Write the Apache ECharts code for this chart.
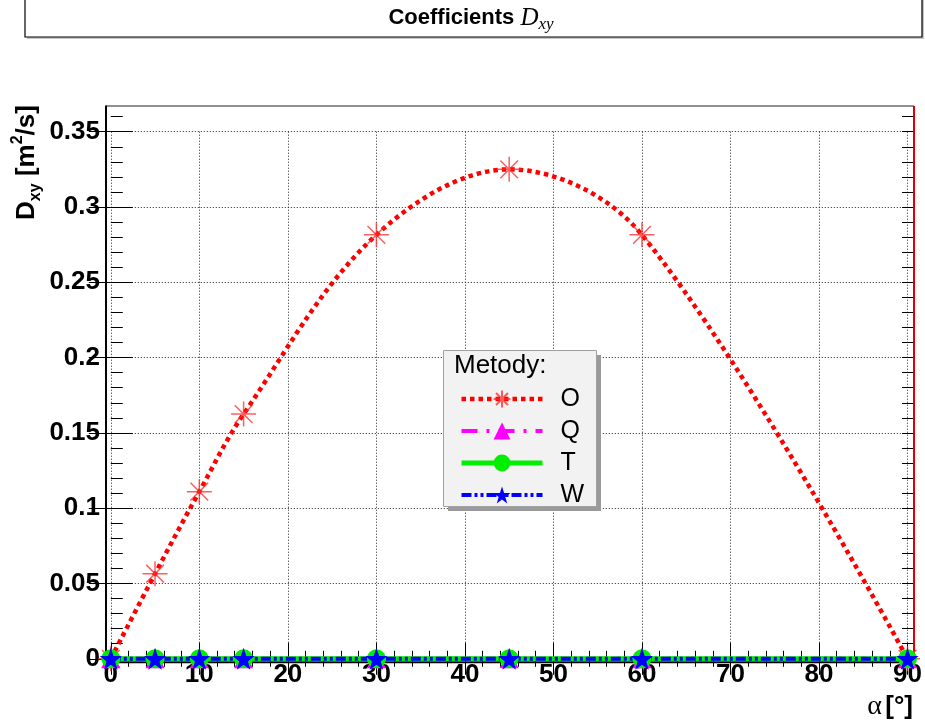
<!DOCTYPE html>
<html>
<head>
<meta charset="utf-8">
<script src="https://cdn.jsdelivr.net/npm/echarts@6/dist/echarts.min.js"></script>
<style>
  html, body { margin: 0; padding: 0; background: #fff; }
  #chart { width: 925px; height: 726px; }
</style>
</head>
<body>
<div id="chart"></div>
<script>
// Angle of the sample points, degrees
const alpha = [0, 5, 10, 15, 30, 45, 60, 90];
// Diffusion coefficient D_xy [m^2/s] for each method
const dO = [0, 0.0565, 0.111, 0.1625, 0.2815, 0.325, 0.2815, 0];
const dQ = [0, 0, 0, 0, 0, 0, 0, 0];
const dT = [0, 0, 0, 0, 0, 0, 0, 0];
const dW = [0, 0, 0, 0, 0, 0, 0, 0];
const methodNames = ['O', 'Q', 'T', 'W'];

const pairs = (ys) => alpha.map((a, i) => [a, ys[i]]);

const SANS = 'Liberation Sans';
const SERIF = 'Liberation Serif';

// Frame of the plotting area (pixels) and the data window inside it
const frame = { x0: 106, y0: 106, x1: 914, y1: 662.3 };
const dataGrid = { left: 110.8, right: 925 - 909.3, top: 131.7, bottom: 726 - 658.8 };

const asterisk = 'path://M12,0L12,24M0,12L24,12M3.5,3.5L20.5,20.5M3.5,20.5L20.5,3.5';
const star5 = 'path://M50,2L61.8,35.4L97.6,35.4L68.9,56.9L79.4,90.9L50,70.5L20.6,90.9L31.1,56.9L2.4,35.4L38.2,35.4Z';

const dotted = { color: '#222', type: [1, 2], width: 1 };

function xAxisCfg(pos, offset, labels) {
  return {
    type: 'value', gridIndex: 0, position: pos, offset: offset,
    min: 0, max: 90, interval: 10,
    axisLine: { show: false },
    axisTick: { show: true, inside: true, length: 16, lineStyle: { color: '#000', width: 1 } },
    minorTick: { show: true, splitNumber: 5, length: 8, lineStyle: { color: '#000', width: 1 } },
    axisLabel: labels ? {
      show: true, margin: 0, color: '#000', fontSize: 26, fontWeight: 'bold', fontFamily: SANS
    } : { show: false },
    splitLine: { show: labels, lineStyle: dotted }
  };
}

function yMajorCfg(pos, offset, labels) {
  return {
    type: 'value', gridIndex: 0, position: pos, offset: offset,
    min: 0, max: 0.35, interval: 0.05,
    axisLine: { show: false },
    axisTick: { show: true, inside: true, length: 22, lineStyle: { color: '#000', width: 1 } },
    axisLabel: labels ? {
      show: true, margin: 6, color: '#000', fontSize: 26, fontWeight: 'bold', fontFamily: SANS
    } : { show: false },
    splitLine: { show: labels, lineStyle: dotted }
  };
}

function yMinorCfg(pos, offset) {
  return {
    type: 'value', gridIndex: 1, position: pos, offset: offset,
    min: 0, max: 0.36, interval: 0.01,
    axisLine: { show: false },
    axisTick: { show: true, inside: true, length: 12, lineStyle: { color: '#000', width: 1 } },
    axisLabel: { show: false },
    splitLine: { show: false }
  };
}

const option = {
  animation: false,
  backgroundColor: '#fff',
  grid: [
    Object.assign({ containLabel: false }, dataGrid),
    { left: dataGrid.left, right: dataGrid.right, top: 658.8 - 0.36 * 1506, bottom: dataGrid.bottom }
  ],
  xAxis: [
    xAxisCfg('bottom', frame.y1 - 658.8, true),
    xAxisCfg('top', dataGrid.top - frame.y0, false),
    { type: 'value', gridIndex: 1, min: 0, max: 90, show: false }
  ],
  yAxis: [
    yMajorCfg('left', dataGrid.left - frame.x0, true),
    yMajorCfg('right', frame.x1 - 909.3, false),
    yMinorCfg('left', dataGrid.left - frame.x0),
    yMinorCfg('right', frame.x1 - 909.3)
  ],
  legend: {
    orient: 'vertical', left: 459, top: 386.5, padding: 0,
    itemWidth: 81, itemHeight: 21, itemGap: 7,
    selectedMode: false, z: 6,
    data: methodNames,
    lineStyle: { width: 'inherit' },
    textStyle: { fontSize: 25, fontFamily: SANS, color: '#000', lineHeight: 24, padding: [0, 0, 0, 13] }
  },
  series: [
    {
      name: 'O', type: 'line', xAxisIndex: 0, yAxisIndex: 0, data: pairs(dO),
      smooth: 0.35, clip: false, z: 2,
      symbol: asterisk, symbolSize: 25,
      lineStyle: { color: '#ff0000', width: 4.5, type: [4.5, 4], cap: 'butt' },
      itemStyle: { color: '#ff0000', borderColor: 'rgba(255,40,40,0.75)', borderWidth: 1.5 }
    },
    {
      name: 'Q', type: 'line', xAxisIndex: 0, yAxisIndex: 0, data: pairs(dQ),
      clip: false, z: 3,
      symbol: 'triangle', symbolSize: 19,
      lineStyle: { color: '#ff00ff', width: 4, type: [16, 9, 3, 9] },
      itemStyle: { color: '#ff00ff' }
    },
    {
      name: 'T', type: 'line', xAxisIndex: 0, yAxisIndex: 0, data: pairs(dT),
      clip: false, z: 3,
      symbol: 'circle', symbolSize: 19,
      lineStyle: { color: '#00ee00', width: 5, type: 'solid' },
      itemStyle: { color: '#00ee00' }
    },
    {
      name: 'W', type: 'line', xAxisIndex: 0, yAxisIndex: 0, data: pairs(dW),
      clip: false, z: 3,
      symbol: star5, symbolSize: 22,
      lineStyle: { color: '#0000ff', width: 4, type: [10, 3, 3, 3, 3, 3] },
      itemStyle: { color: '#0000ff' }
    }
  ],
  graphic: [
    // title box with its shadow
    { type: 'rect', z: 1, shape: { x: 27, y: -3, width: 897, height: 42 }, style: { fill: '#c8c8c8' } },
    { type: 'rect', z: 1, shape: { x: 25, y: -5, width: 897, height: 42 }, style: { fill: '#fff', stroke: '#000', lineWidth: 1.2 } },
    {
      type: 'text', z: 2, x: 471, y: 18,
      style: {
        text: '{b|Coefficients }{i|D}{s|xy}', align: 'center', verticalAlign: 'middle',
        rich: {
          b: { fontSize: 22, fontWeight: 'bold', fontFamily: SANS, fill: '#000', lineHeight: 30 },
          i: { fontSize: 25, fontStyle: 'italic', fontFamily: SERIF, fill: '#000', lineHeight: 30 },
          s: { fontSize: 17, fontStyle: 'italic', fontFamily: SERIF, fill: '#000', lineHeight: 17, verticalAlign: 'bottom' }
        }
      }
    },
    // frame of the plotting area
    { type: 'line', z: 1, shape: { x1: frame.x0, y1: frame.y0, x2: frame.x1, y2: frame.y0 }, style: { stroke: '#222', lineWidth: 1 } },
    { type: 'line', z: 1, shape: { x1: frame.x1, y1: frame.y0, x2: frame.x1, y2: frame.y1 }, style: { stroke: '#e00000', lineWidth: 2 } },
    { type: 'line', z: 1, shape: { x1: frame.x0, y1: frame.y0 - 0.5, x2: frame.x0, y2: frame.y1 + 1 }, style: { stroke: '#000', lineWidth: 2 } },
    { type: 'line', z: 1, shape: { x1: frame.x0, y1: frame.y1, x2: frame.x1, y2: frame.y1 }, style: { stroke: '#000', lineWidth: 2 } },
    // axis titles
    {
      type: 'text', z: 5, x: 27, y: 162.5, rotation: Math.PI / 2,
      style: {
        text: '{b|D}{sub|xy}{b| [m}{sup|2}{b|/s]}', align: 'center', verticalAlign: 'middle',
        rich: {
          b: { fontSize: 26, fontWeight: 'bold', fontFamily: SANS, fill: '#000', lineHeight: 34 },
          sub: { fontSize: 16, fontWeight: 'bold', fontFamily: SANS, fill: '#000', lineHeight: 16, verticalAlign: 'bottom' },
          sup: { fontSize: 16, fontWeight: 'bold', fontFamily: SANS, fill: '#000', lineHeight: 16, verticalAlign: 'top' }
        }
      }
    },
    {
      type: 'text', z: 5, x: 913, y: 707,
      style: {
        text: '{a|α} {b|[°]}', align: 'right', verticalAlign: 'middle',
        rich: {
          a: { fontSize: 28, fontFamily: SERIF, fill: '#000' },
          b: { fontSize: 26, fontWeight: 'bold', fontFamily: SANS, fill: '#000' }
        }
      }
    },
    // legend box, its shadow and heading
    { type: 'rect', z: 4, shape: { x: 448, y: 355, width: 153, height: 156 }, style: { fill: '#9a9a9a' } },
    { type: 'rect', z: 4, shape: { x: 443.5, y: 350.5, width: 153, height: 156 }, style: { fill: '#f2f2f2', stroke: '#a0a0a0', lineWidth: 1 } },
    {
      type: 'text', z: 5, x: 454, y: 366,
      style: { text: 'Metody:', fontSize: 26, fontFamily: SANS, fill: '#000', align: 'left', verticalAlign: 'middle' }
    }
  ]
};

const chart = echarts.init(document.getElementById('chart'), null, { renderer: 'canvas' });
chart.setOption(option);
</script>
</body>
</html>
